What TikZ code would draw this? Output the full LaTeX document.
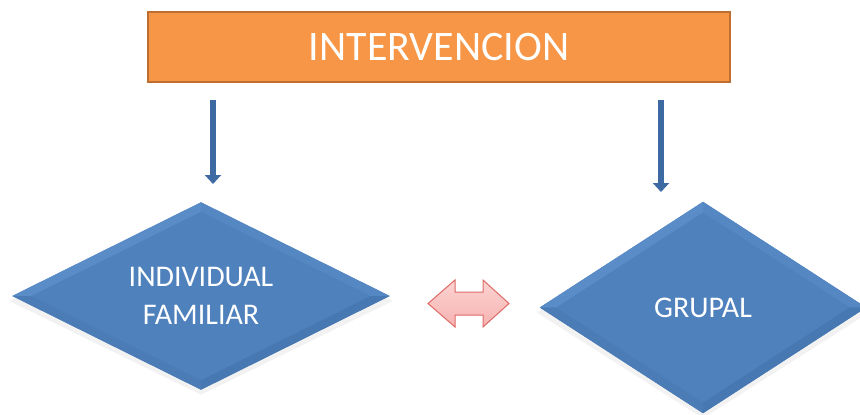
\documentclass[tikz,border=0pt]{standalone}
\usepackage{fontspec}
\setmainfont{Carlito}
\usetikzlibrary{shapes.geometric,arrows.meta,calc,backgrounds}
\definecolor{orangeF}{HTML}{F79646}
\definecolor{orangeD}{HTML}{BE6E2E}
\definecolor{blueF}{HTML}{4F81BD}
\definecolor{blueTL}{HTML}{5A8CC8}
\definecolor{blueTR}{HTML}{5587C3}
\definecolor{blueBL}{HTML}{4B7CB6}
\definecolor{blueBR}{HTML}{4778B1}
\definecolor{arrowblue}{HTML}{3E6AA3}
\definecolor{pinkF}{HTML}{F7B3B1}
\definecolor{pinkL}{HTML}{FBD3D2}
\definecolor{pinkD}{HTML}{DD6B67}
\tikzset{
  titlebox/.style={draw=orangeD, line width=1.5pt, fill=orangeF, minimum width=582pt, minimum height=70pt, inner sep=0pt, text=white, font=\fontsize{42}{48}\selectfont},
  diam/.style={shape=diamond, inner sep=0pt, draw=none, text=white, align=center, font=\fontsize{30}{38}\selectfont},
  downarrow/.style={draw=arrowblue, line width=6.5pt, -{Triangle[width=16pt,length=9pt]}},
  pinkarrow/.style={draw=pinkD, line width=1pt, top color=pinkL, bottom color=pinkF, line join=miter}
}
\newcommand{\bevelfill}[1]{%
  \coordinate (#1n) at ($(#1.north)!0.1!(#1.center)$);
  \coordinate (#1e) at ($(#1.east)!0.1!(#1.center)$);
  \coordinate (#1s) at ($(#1.south)!0.1!(#1.center)$);
  \coordinate (#1w) at ($(#1.west)!0.1!(#1.center)$);
  \fill[black, opacity=0.05] ([yshift=-5pt]#1.north) -- ([xshift=3pt,yshift=-5pt]#1.east) -- ([yshift=-5pt]#1.south) -- ([xshift=-3pt,yshift=-5pt]#1.west) -- cycle;
  \fill[blueF] (#1.north) -- (#1.east) -- (#1.south) -- (#1.west) -- cycle;
  \fill[blueTL] (#1.west) -- (#1.north) -- (#1n) -- (#1w) -- cycle;
  \fill[blueTR] (#1.north) -- (#1.east) -- (#1e) -- (#1n) -- cycle;
  \fill[blueBR] (#1.east) -- (#1.south) -- (#1s) -- (#1e) -- cycle;
  \fill[blueBL] (#1.south) -- (#1.west) -- (#1w) -- (#1s) -- cycle;
}
\begin{document}
\begin{tikzpicture}[x=1pt,y=-1pt]
\useasboundingbox (0,0) rectangle (860,415);
\clip (0,0) rectangle (860,415);
\node[titlebox] (title) at (439,47) {INTERVENCION};
\node[diam, aspect=2, minimum width=377pt, minimum height=187pt] (ind) at (201,296) {INDIVIDUAL\\FAMILIAR};
\node[diam, aspect=1.5, minimum width=326pt, minimum height=211pt] (gru) at (703,307.5) {GRUPAL};
\begin{scope}[on background layer]
  \bevelfill{ind}
  \bevelfill{gru}
\end{scope}
\coordinate (s1) at (213,100);
\coordinate (e1) at (213,184);
\coordinate (s2) at (661,100);
\coordinate (e2) at (661,192);
\draw[downarrow] (s1) -- (e1);
\draw[downarrow] (s2) -- (e2);
\coordinate (dl) at (428,303.5);
\coordinate (dr) at (509,303.5);
\path[pinkarrow] (dl) -- (455,280) -- (455,292) -- (483,292) -- (483,280) -- (dr) -- (483,327) -- (483,315) -- (455,315) -- (455,327) -- cycle;
\end{tikzpicture}
\end{document}
